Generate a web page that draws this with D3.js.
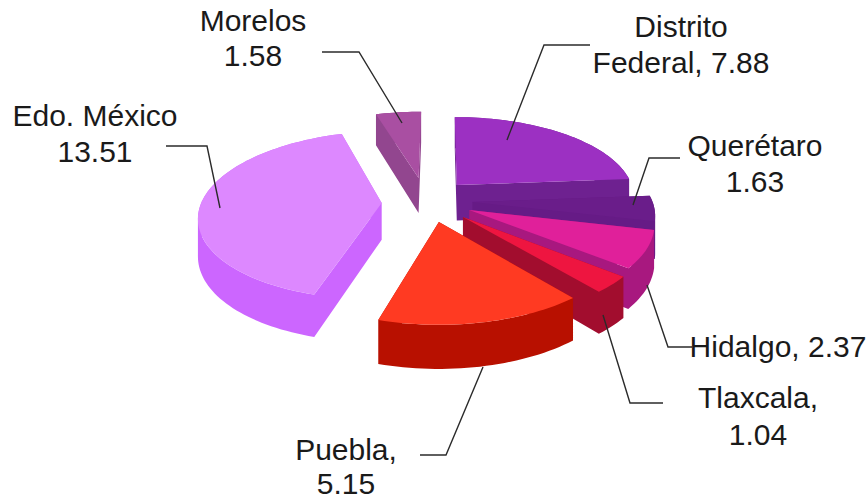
<!DOCTYPE html>
<html>
<head>
<meta charset="utf-8">
<script src="https://cdn.jsdelivr.net/npm/d3@7/dist/d3.min.js"></script>
<style>
  html, body { margin: 0; padding: 0; background: #fff; }
  svg { display: block; }
  text { font-family: "Liberation Sans", Arial, sans-serif; font-size: 30px; fill: #1a1a1a; text-anchor: middle; }
</style>
</head>
<body>
<svg id="chart" width="868" height="499"></svg>
<script>
// Slices in clockwise order, starting at twelve o'clock
const states = ["Distrito Federal", "Querétaro", "Hidalgo", "Tlaxcala", "Puebla", "Edo. México", "Morelos"];
const values = [7.88, 1.63, 2.37, 1.04, 5.15, 13.51, 1.58];

// Label wording: "{v}" stands for the slice's value
const labelLines = [
  ["Distrito", "Federal, {v}"],
  ["Querétaro", "{v}"],
  ["Hidalgo, {v}"],
  ["Tlaxcala,", "{v}"],
  ["Puebla,", "{v}"],
  ["Edo. México", "{v}"],
  ["Morelos", "{v}"]
];

const topColors  = ["#9c30c2", "#6a1d8a", "#e0209a", "#ee1540", "#ff3a22", "#dd88ff", "#a94fa2"];
const sideColors = ["#6e2190", "#661b86", "#a8187f", "#a20d2e", "#b81000", "#cc66ff", "#92468f"];

// Exploded offset of every slice on the pie's plane, in pie radii (right, back)
const explode = [
  [0.096, 0.127], [0.180, -0.086], [0.160, -0.183], [0.124, -0.265],
  [-0.006, -0.322], [-0.323, -0.100], [-0.124, 0.219]
];

// Back-to-front paint order
const paintOrder = [6, 0, 5, 1, 2, 3, 4];

// Label placement: centre x and first baseline, line spacing, leader polyline
const labelAnchors = [
  [681, 37], [755, 156], [778, 357], [758, 408], [346, 460], [95, 126], [253, 31]
];
const lineSteps = [36, 36, 0, 37, 34, 36, 35];
const leaders = [
  [[590, 45], [544, 45], [507, 140]],
  [[680, 158], [649, 158], [633, 205]],
  [[692, 347], [668, 347], [647, 285]],
  [[663, 403], [630, 403], [603, 315]],
  [[420, 455], [446, 455], [483, 367]],
  [[166, 146], [207, 146], [220, 208]],
  [[322, 52], [359, 52], [402, 123]]
];

// Perspective camera looking down on the pie
const camera = { cx: 440, cy: 195, rx: 178, ry: 80, k: 0.14, thickness: 36 };

function project(x, y, z) {
  const w = 1 + camera.k * y;
  return [
    camera.cx + camera.rx * x / w,
    camera.cy - camera.ry * y / w + z * camera.thickness / w
  ];
}

const svg = d3.select("#chart");
const line = d3.line();
const closed = d3.line().curve(d3.curveLinearClosed);

const arcs = d3.pie().sort(null).value(d => d)(values);

function rimPoints(arc, offset) {
  const steps = Math.max(6, Math.ceil((arc.endAngle - arc.startAngle) / 0.03));
  return d3.range(steps + 1).map(i => {
    const a = arc.startAngle + (arc.endAngle - arc.startAngle) * i / steps;
    return [offset[0] + Math.sin(a), offset[1] + Math.cos(a)];
  });
}

// Quads wound the same way, so that one nonzero-filled path covers them all
function wallQuad(p, q) {
  const quad = [project(p[0], p[1], 0), project(q[0], q[1], 0), project(q[0], q[1], 1), project(p[0], p[1], 1)];
  return d3.polygonArea(quad) < 0 ? quad.reverse() : quad;
}

const pie = svg.append("g");
paintOrder.forEach(i => {
  const offset = explode[i];
  const outline = [offset, ...rimPoints(arcs[i], offset)];
  const g = pie.append("g");

  // Walls of the extruded slice
  g.append("path")
    .attr("d", outline.map((p, j) => closed(wallQuad(p, outline[(j + 1) % outline.length]))).join(""))
    .attr("fill", sideColors[i])
    .attr("fill-rule", "nonzero");

  // Top face
  g.append("path")
    .attr("d", closed(outline.map(p => project(p[0], p[1], 0))))
    .attr("fill", topColors[i]);
});

// Leader lines
svg.append("g").selectAll("path").data(leaders).join("path")
  .attr("d", d => line(d))
  .attr("fill", "none")
  .attr("stroke", "#2b2b2b")
  .attr("stroke-width", 1.4);

// Labels
const labels = svg.append("g").selectAll("text").data(arcs).join("text")
  .attr("x", (d, i) => labelAnchors[i][0])
  .attr("y", (d, i) => labelAnchors[i][1]);
labels.each(function (d, i) {
  labelLines[i].forEach((t, j) => {
    d3.select(this).append("tspan")
      .attr("x", labelAnchors[i][0])
      .attr("y", labelAnchors[i][1] + j * lineSteps[i])
      .text(t.replace("{v}", values[i].toFixed(2)));
  });
});
</script>
</body>
</html>
